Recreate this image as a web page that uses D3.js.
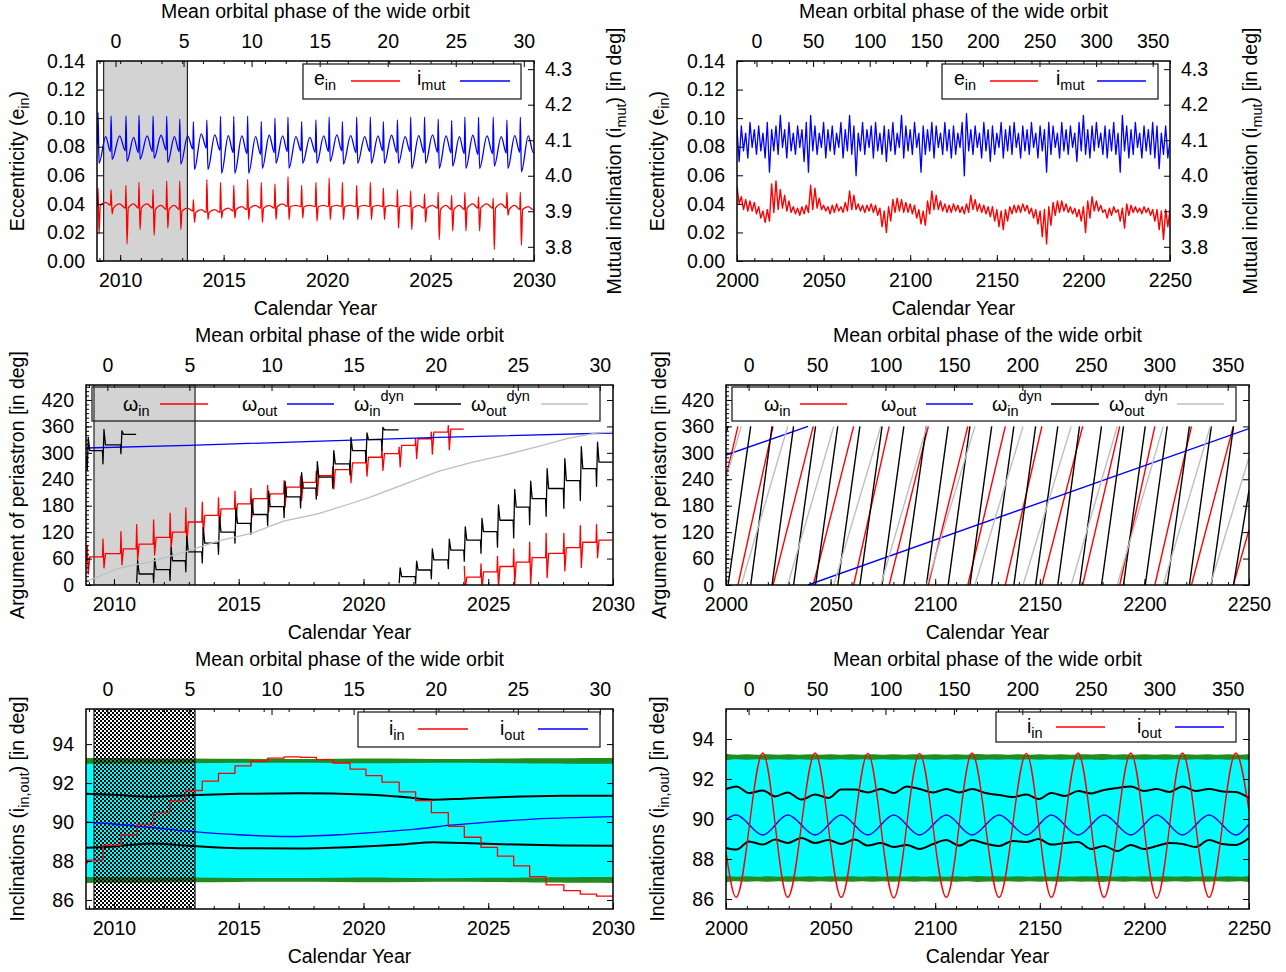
<!DOCTYPE html>
<html>
<head>
<meta charset="utf-8">
<script src="https://cdn.jsdelivr.net/npm/d3@7"></script>
<style>
  body { margin: 0; background: #fff; }
  text { font-family: "Liberation Sans", Arial, Helvetica, sans-serif; font-size: 19.5px; fill: #000; }
</style>
</head>
<body>
<svg id="fig" width="1286" height="972"></svg>
<script>
// ---------------- tick labels ----------------
var yearTicksShort = [2010, 2015, 2020, 2025, 2030];
var yearTicksLong = [2000, 2050, 2100, 2150, 2200, 2250];
var phaseTicksShort = [0, 5, 10, 15, 20, 25, 30];
var phaseTicksLong = [0, 50, 100, 150, 200, 250, 300, 350];
var eccTicks = [0, 0.02, 0.04, 0.06, 0.08, 0.10, 0.12, 0.14];
var imutTicks = [3.8, 3.9, 4.0, 4.1, 4.2, 4.3];
var omegaTicks = [0, 60, 120, 180, 240, 300, 360, 420];
var inclTicks = [86, 88, 90, 92, 94];

// ---------------- short run (2009-2030) ----------------
// years of the periastron spikes
var spikeYears = [2008.93, 2009.56, 2010.28, 2010.91, 2011.59, 2012.25, 2012.88, 2013.54, 2014.19, 2014.85,
  2015.49, 2016.16, 2016.82, 2017.48, 2018.11, 2018.77, 2019.46, 2020.10, 2020.74, 2021.43,
  2022.09, 2022.72, 2023.40, 2024.04, 2024.71, 2025.37, 2026.02, 2026.66, 2027.32, 2028.03,
  2028.69, 2029.34];
var observedSpan = [2009.2, 2013.25];

// e_in
var eInPeak = [0.051, 0.050, 0.053, 0.055, 0.050, 0.056, 0.056, 0.043, 0.057, 0.055, 0.053, 0.057, 0.055, 0.054, 0.059, 0.053,
  0.055, 0.058, 0.055, 0.053, 0.055, 0.051, 0.050, 0.049, 0.047, 0.048, 0.046, 0.048, 0.045, 0.044, 0.048, 0.048];
var eInDip = [0.019, 0.033, 0.012, 0.022, 0.018, 0.023, 0.022, 0.027, 0.029, 0.030, 0.030, 0.029, 0.027, 0.029, 0.029, 0.030,
  0.028, 0.029, 0.029, 0.029, 0.029, 0.029, 0.023, 0.022, 0.027, 0.015, 0.021, 0.021, 0.021, 0.008, 0.032, 0.011];
var eInBase = [0.039, 0.037, 0.037, 0.037, 0.036, 0.036, 0.035, 0.034, 0.034, 0.035, 0.036, 0.037, 0.037, 0.038, 0.038, 0.038,
  0.038, 0.038, 0.038, 0.038, 0.038, 0.038, 0.038, 0.037, 0.037, 0.036, 0.036, 0.037, 0.037, 0.037, 0.036, 0.036];
var eInHump = [0.041, 0.040, 0.040, 0.040, 0.039, 0.039, 0.037, 0.036, 0.036, 0.037, 0.038, 0.039, 0.039, 0.040, 0.039, 0.039,
  0.039, 0.039, 0.039, 0.039, 0.039, 0.039, 0.039, 0.039, 0.039, 0.039, 0.039, 0.040, 0.040, 0.040, 0.039, 0.038];
// i_mut (deg)
var imutPeak = [4.178, 4.168, 4.168, 4.170, 4.168, 4.167, 4.159, 4.152, 4.157, 4.167, 4.167, 4.168, 4.152, 4.162, 4.165, 4.152,
  4.157, 4.165, 4.152, 4.165, 4.165, 4.152, 4.157, 4.165, 4.165, 4.159, 4.155, 4.165, 4.165, 4.165, 4.157, 4.165];
var imutDip = [4.035, 4.046, 4.040, 4.046, 4.049, 4.037, 4.033, 4.018, 4.018, 4.007, 4.007, 4.007, 4.021, 4.035, 4.021, 4.035,
  4.035, 4.040, 4.033, 4.035, 4.035, 4.035, 4.035, 4.021, 4.035, 4.021, 4.027, 4.021, 4.021, 4.027, 4.021, 4.011];
var imutHump = [4.110, 4.112, 4.108, 4.112, 4.114, 4.110, 4.112, 4.118, 4.115, 4.113, 4.112, 4.110, 4.114, 4.112, 4.110, 4.108,
  4.112, 4.115, 4.113, 4.110, 4.112, 4.114, 4.110, 4.113, 4.115, 4.112, 4.110, 4.114, 4.112, 4.110, 4.113, 4.112];
var imutLow = [4.068, 4.070, 4.065, 4.068, 4.072, 4.068, 4.075, 4.078, 4.072, 4.065, 4.062, 4.060, 4.065, 4.068, 4.070, 4.066,
  4.068, 4.070, 4.065, 4.068, 4.070, 4.066, 4.068, 4.065, 4.066, 4.064, 4.062, 4.060, 4.062, 4.064, 4.066, 4.065];

// omega_in (deg), level after each spike, spike heights
var omegaInLevel = [64, 71, 82, 93, 108, 120, 143, 158, 173, 184, 196, 207, 222, 233, 248, 262,
  277, 290, 298, 317, 332, 347, 354, 18, 30, 42, 52, 62, 72, 85, 97, 102];
var omegaInUp = [35, 40, 50, 55, 55, 55, 55, 45, 40, 40, 35, 30, 30, 25, 25, 20,
  20, 20, 20, 15, 15, 15, 15, 25, 30, 35, 40, 45, 55, 45, 50, 40];
var omegaInDown = [30, 25, 25, 25, 25, 25, 30, 30, 30, 30, 30, 30, 30, 30, 30, 30,
  30, 30, 30, 30, 30, 35, 40, 25, 30, 35, 40, 50, 45, 40, 45, 35];
// omega_in^dyn (deg)
var omegaInDynLevel = [305, 318, 342, 25, 35, 55, 75, 95, 120, 140, 160, 178, 200, 220, 245, 275,
  305, 330, 352, 19, 34, 57, 79, 102, 121, 147, 177, 196, 219, 237, 264, 279];
var omegaInDynUp = [30, 35, 8, 30, 25, 30, 35, 35, 35, 35, 35, 35, 35, 35, 35, 30,
  30, 15, 6, 20, 20, 25, 25, 30, 30, 35, 40, 40, 45, 50, 50, 45];
var omegaInDynDown = [30, 30, 20, 20, 20, 25, 25, 25, 25, 25, 25, 25, 25, 25, 25, 25,
  25, 25, 25, 15, 15, 20, 20, 25, 30, 35, 40, 40, 40, 45, 45, 40];
// omega_out and omega_out^dyn (deg)
var omegaOutYears = [2008.88, 2013, 2018, 2023, 2030];
var omegaOutValues = [311, 317, 326, 335, 345];
var omegaOutDynYears = [2008.88, 2010.2, 2011.5, 2012.85, 2014.2, 2015.5, 2016.8, 2018.2, 2019.5, 2020.3,
  2021.7, 2023.0, 2024.3, 2025.6, 2026.9, 2028.2, 2029.3, 2030];
var omegaOutDynValues = [8, 38, 53, 75, 100, 117, 145, 162, 185, 200, 230, 258, 278, 294, 313, 333, 345, 347];

// inclinations (deg)
var iInShort = [88.05, 88.8, 89.33, 89.88, 90.5, 91.1, 91.62, 92.1, 92.5, 92.88, 93.12, 93.28, 93.34, 93.32, 93.2, 93.03,
  92.72, 92.38, 92.05, 91.55, 91.1, 90.48, 89.78, 89.22, 88.7, 88.25, 87.75, 87.2, 86.78, 86.48, 86.3, 86.2];
var iOutShortYears = [2008.88, 2010, 2011.5, 2013.3, 2015, 2017, 2019, 2020.3, 2022, 2023.5, 2025, 2026.8, 2028.5, 2030];
var iOutShort = [90.0, 89.9, 89.72, 89.5, 89.35, 89.26, 89.35, 89.46, 89.62, 89.84, 90.0, 90.15, 90.23, 90.28];
var limitYearsShort = [2008.88, 2010, 2011.5, 2013, 2015, 2017.5, 2020, 2021.5, 2022.8, 2024, 2026, 2028, 2030];
var upperLimitShort = [91.45, 91.4, 91.3, 91.38, 91.45, 91.48, 91.42, 91.3, 91.15, 91.2, 91.3, 91.35, 91.35];
var lowerLimitShort = [88.68, 88.75, 88.9, 88.78, 88.66, 88.65, 88.75, 88.85, 88.97, 88.92, 88.85, 88.8, 88.78];
var bandYearsShort = [2008.88, 2011, 2013, 2015, 2017, 2019, 2021, 2023, 2025, 2027, 2030];
var bandHalfShort = [0.15, 0.14, 0.12, 0.1, 0.09, 0.11, 0.13, 0.08, 0.11, 0.13, 0.15];
var bandCentreShort = [87.03, 93.14];
var cyanShort = [87.03, 93.1];

// ---------------- long run (2000-2250) ----------------
var longStep = 2.5; // years between samples below
var eInHiLong = [0.052,0.045,0.043,0.042,0.041,0.038,0.035,0.036,0.054,0.056,
  0.050,0.046,0.042,0.038,0.037,0.038,0.039,0.053,0.051,0.044,
  0.039,0.038,0.039,0.040,0.038,0.041,0.049,0.046,0.040,0.039,
  0.039,0.040,0.039,0.037,0.035,0.038,0.043,0.044,0.043,0.041,
  0.040,0.039,0.036,0.035,0.042,0.049,0.046,0.042,0.040,0.039,
  0.040,0.039,0.038,0.040,0.046,0.043,0.040,0.039,0.038,0.038,
  0.036,0.035,0.036,0.038,0.039,0.039,0.040,0.039,0.037,0.036,
  0.035,0.036,0.038,0.041,0.042,0.042,0.040,0.038,0.037,0.036,
  0.038,0.042,0.045,0.042,0.039,0.036,0.037,0.038,0.036,0.037,
  0.040,0.039,0.038,0.037,0.038,0.037,0.036,0.036,0.035,0.036,0.036];
var eInLoLong = [0.040,0.036,0.035,0.035,0.033,0.030,0.027,0.028,0.034,0.036,
  0.037,0.035,0.034,0.033,0.032,0.033,0.034,0.036,0.037,0.036,
  0.035,0.033,0.034,0.035,0.034,0.035,0.036,0.036,0.035,0.034,
  0.035,0.034,0.032,0.024,0.020,0.028,0.034,0.035,0.034,0.034,
  0.033,0.030,0.026,0.025,0.033,0.036,0.036,0.035,0.034,0.034,
  0.035,0.034,0.033,0.034,0.036,0.035,0.034,0.033,0.031,0.028,
  0.024,0.022,0.028,0.033,0.034,0.034,0.035,0.033,0.030,0.026,
  0.017,0.012,0.025,0.032,0.034,0.035,0.034,0.033,0.031,0.028,
  0.020,0.030,0.035,0.035,0.034,0.030,0.032,0.034,0.028,0.023,
  0.032,0.034,0.034,0.033,0.034,0.032,0.028,0.022,0.015,0.024,0.028];
var imutHiLong = [4.13,4.14,4.12,4.15,4.13,4.14,4.12,4.15,4.13,4.14,
  4.17,4.13,4.15,4.12,4.14,4.13,4.15,4.17,4.14,4.12,
  4.15,4.13,4.14,4.12,4.15,4.13,4.17,4.14,4.12,4.15,
  4.13,4.14,4.15,4.12,4.14,4.13,4.15,4.12,4.17,4.14,
  4.13,4.15,4.12,4.14,4.13,4.15,4.14,4.12,4.15,4.13,
  4.14,4.12,4.15,4.175,4.13,4.14,4.12,4.15,4.13,4.14,
  4.12,4.15,4.13,4.14,4.15,4.12,4.14,4.13,4.15,4.12,
  4.14,4.13,4.15,4.14,4.12,4.15,4.13,4.14,4.12,4.15,
  4.17,4.13,4.14,4.15,4.12,4.14,4.13,4.15,4.12,4.17,
  4.14,4.13,4.15,4.12,4.14,4.13,4.15,4.14,4.12,4.14,4.10];
var imutLoLong = [4.04,4.07,4.05,4.08,4.06,4.07,4.05,4.01,4.07,4.06,
  4.08,4.05,4.07,4.06,4.08,4.04,4.01,4.07,4.06,4.08,
  4.05,4.07,4.06,4.08,4.05,4.07,4.06,4.00,4.07,4.06,
  4.08,4.05,4.07,4.06,4.04,4.07,4.06,4.08,4.05,4.07,
  4.06,4.08,4.01,4.06,4.07,4.05,4.08,4.06,4.07,4.05,
  4.06,4.08,4.00,4.07,4.06,4.08,4.05,4.07,4.04,4.06,
  4.08,4.05,4.07,4.06,4.08,4.05,4.07,4.06,4.08,4.05,
  4.07,4.01,4.06,4.08,4.05,4.07,4.06,4.08,4.04,4.07,
  4.06,4.05,4.07,4.08,4.06,4.05,4.07,4.06,4.01,4.07,
  4.05,4.06,4.08,4.05,4.07,4.06,4.05,4.02,4.06,4.05,4.05];

// years where each argument of periastron wraps from 360 back to 0
var omegaInWraps = [2005.7, 2022.5, 2041.7, 2061.0, 2078.0, 2096.7, 2115.6, 2133.5, 2151.0, 2170.5, 2188.2, 2205.0, 2222.5, 2242.5];
var omegaInEnds = [245, 125];
var omegaOutWraps = [2039.2];
var omegaOutEnds = [295, 355];
var omegaInDynWraps = [2001.0, 2011.8, 2022.0, 2032.3, 2042.8, 2053.4, 2064.0, 2074.6, 2085.0, 2095.8, 2106.2, 2116.6,
  2127.0, 2137.6, 2148.0, 2158.6, 2169.0, 2179.5, 2190.0, 2200.4, 2210.9, 2221.5, 2232.0, 2242.6];
var omegaInDynEnds = [345, 215];
var omegaOutDynWraps = [2007.3, 2029.5, 2051.5, 2074.0, 2096.0, 2119.0, 2142.0, 2165.0, 2187.0, 2209.0, 2231.5];
var omegaOutDynEnds = [242, 290];

// inclination extremes
var extremaYearsLong = [2000, 2004.8, 2017.6, 2029.5, 2042.6, 2055.1, 2067.8, 2080.2, 2092.5, 2105.3, 2117.6,
  2130.5, 2143.6, 2155.5, 2168.3, 2180.7, 2193.5, 2205.9, 2218.2, 2230.9, 2243.7, 2250];
var iInLong = [88.35, 86.08, 93.3, 86.08, 93.3, 86.08, 93.28, 86.05, 93.28, 86.08, 93.3,
  86.08, 93.28, 86.08, 93.3, 86.08, 93.3, 86.05, 93.3, 86.08, 93.3, 90.4];
var iOutLong = [89.97, 90.2, 89.2, 90.2, 89.2, 90.2, 89.2, 90.2, 89.2, 90.2, 89.2,
  90.2, 89.2, 90.2, 89.2, 90.2, 89.2, 90.2, 89.2, 90.2, 89.2, 89.75];
var limitYearsLong = [2000, 2005, 2011, 2017.6, 2023.5, 2029.5, 2036, 2042.6, 2049, 2055.1, 2061.5, 2067.8, 2074, 2080.2,
  2086.4, 2092.5, 2099, 2105.3, 2111.5, 2117.6, 2124, 2130.5, 2137, 2143.6, 2149.5, 2155.5, 2162, 2168.3,
  2174.5, 2180.7, 2187, 2193.5, 2199.7, 2205.9, 2212, 2218.2, 2224.5, 2230.9, 2237.3, 2243.7, 2250];
var upperLimitLong = [91.5, 91.63, 91.3, 91.43, 91.13, 91.33, 90.97, 91.22, 91.05, 91.47, 91.47, 91.33, 91.5, 91.3,
  91.63, 91.5, 91.33, 91.5, 91.33, 91.5, 91.3, 91.2, 91.1, 91.22, 91.0, 91.3, 91.15, 91.4,
  91.28, 91.45, 91.55, 91.63, 91.4, 91.5, 91.35, 91.63, 91.4, 91.5, 91.38, 91.35, 91.05];
var lowerLimitLong = [88.55, 88.47, 88.88, 88.72, 88.97, 88.8, 89.05, 88.8, 88.95, 88.75, 88.97, 88.67, 88.8, 88.6,
  88.7, 88.5, 88.75, 88.95, 88.67, 88.95, 88.77, 88.65, 88.9, 88.85, 89.0, 88.72, 88.8, 88.85,
  88.5, 88.65, 88.4, 88.7, 88.5, 88.65, 88.8, 88.75, 88.6, 88.95, 88.75, 88.7, 89.05];
var bandStepLong = 5;
var bandHalfLong = [0.16,0.1,0.15,0.09,0.16,0.1,0.15,0.09,0.16,0.1,0.15,0.1,0.16,0.09,0.15,0.1,0.16,0.09,
  0.15,0.1,0.16,0.1,0.15,0.09,0.17,0.1,0.15,0.09,0.16,0.1,0.15,0.1,0.16,0.09,0.15,0.1,
  0.17,0.09,0.15,0.1,0.16,0.1,0.15,0.09,0.16,0.1,0.15,0.1,0.16,0.09,0.15];
var bandCentreLong = [87.0, 93.1];
var cyanLong = [87.0, 93.1];

// ---------------- drawing ----------------
var svg = d3.select("#fig");
var defs = svg.append("defs");
var checker = defs.append("pattern").attr("id", "checker")
  .attr("width", 4).attr("height", 4).attr("patternUnits", "userSpaceOnUse");
checker.append("rect").attr("width", 2).attr("height", 2).attr("fill", "#000");
checker.append("rect").attr("x", 2).attr("y", 2).attr("width", 2).attr("height", 2).attr("fill", "#000");

function richText(sel, parts) {
  var shift = 0;
  parts.forEach(function(p) {
    var target = p[1] === "sub" ? 5 : (p[1] === "sup" ? -10 : 0);
    var ts = sel.append("tspan").attr("dy", target - shift).text(p[0]);
    if (p[1]) ts.attr("font-size", 14.5);
    shift = target;
  });
}

function clean(g) {
  g.select(".domain").remove();
  g.attr("font-size", null).attr("font-family", null);
}

function makePanel(o) {
  var p = {};
  p.x = d3.scaleLinear().domain(o.xDom).range([o.l, o.r]);
  p.y = d3.scaleLinear().domain(o.yDom).range([o.b, o.t]);
  var xTop = d3.scaleLinear().domain(o.topDom).range([o.l, o.r]);
  defs.append("clipPath").attr("id", "clip" + o.id).append("rect")
    .attr("x", o.l).attr("y", o.t).attr("width", o.r - o.l).attr("height", o.b - o.t);
  p.plot = svg.append("g").attr("clip-path", "url(#clip" + o.id + ")");
  var ax = svg.append("g");
  p.top = svg.append("g");

  ax.append("g").attr("transform", "translate(0," + o.b + ")")
    .call(d3.axisBottom(p.x).tickValues(o.xTicks).tickSize(-6).tickPadding(12).tickFormat(d3.format("d"))).call(clean);
  ax.append("g").attr("transform", "translate(0," + o.b + ")")
    .call(d3.axisBottom(p.x).tickValues(o.xMinor).tickSize(-3).tickFormat("")).call(clean);
  ax.append("g").attr("transform", "translate(0," + o.t + ")")
    .call(d3.axisTop(p.x).tickValues(o.xMinor).tickSize(-3).tickFormat("")).call(clean);
  ax.append("g").attr("transform", "translate(0," + o.t + ")")
    .call(d3.axisTop(xTop).tickValues(o.topTicks).tickSize(-6).tickPadding(13).tickFormat(d3.format("d"))).call(clean);
  ax.append("g").attr("transform", "translate(" + o.l + ",0)")
    .call(d3.axisLeft(p.y).tickValues(o.yTicks).tickSize(-6).tickPadding(12).tickFormat(o.yFmt)).call(clean);
  if (o.yMinor) {
    ax.append("g").attr("transform", "translate(" + o.l + ",0)")
      .call(d3.axisLeft(p.y).tickValues(o.yMinor).tickSize(-3).tickFormat("")).call(clean);
  }
  if (o.y2Dom) {
    p.y2 = d3.scaleLinear().domain(o.y2Dom).range([o.b, o.t]);
    ax.append("g").attr("transform", "translate(" + o.r + ",0)")
      .call(d3.axisRight(p.y2).tickValues(o.y2Ticks).tickSize(-6).tickPadding(11).tickFormat(d3.format(".1f"))).call(clean);
  } else {
    ax.append("g").attr("transform", "translate(" + o.r + ",0)")
      .call(d3.axisRight(p.y).tickValues(o.yTicks).tickSize(-6).tickFormat("")).call(clean);
  }
  ax.append("rect").attr("x", o.l).attr("y", o.t).attr("width", o.r - o.l).attr("height", o.b - o.t)
    .attr("fill", "none").attr("stroke", "#000").attr("stroke-width", 1.5);

  ax.append("text").attr("x", (o.l + o.r) / 2).attr("y", o.t - 43).attr("text-anchor", "middle")
    .text("Mean orbital phase of the wide orbit");
  ax.append("text").attr("x", (o.l + o.r) / 2).attr("y", o.b + 54).attr("text-anchor", "middle")
    .text("Calendar Year");
  var yt = ax.append("text").attr("text-anchor", "middle")
    .attr("transform", "translate(" + o.yTitleX + "," + ((o.t + o.b) / 2) + ") rotate(-90)");
  richText(yt, o.yTitle);
  if (o.y2Title) {
    var y2t = ax.append("text").attr("text-anchor", "middle")
      .attr("transform", "translate(" + o.y2TitleX + "," + ((o.t + o.b) / 2) + ") rotate(-90)");
    richText(y2t, o.y2Title);
  }
  return p;
}

function legend(p, box, lineY, items) {
  p.top.append("rect").attr("x", box[0]).attr("y", box[1]).attr("width", box[2] - box[0]).attr("height", box[3] - box[1])
    .attr("fill", "none").attr("stroke", "#222").attr("stroke-width", 1.3);
  items.forEach(function(it) {
    var t = p.top.append("text").attr("x", it.tx).attr("y", lineY + it.dy);
    richText(t, it.parts);
    p.top.append("line").attr("x1", it.l0).attr("x2", it.l1).attr("y1", lineY).attr("y2", lineY)
      .attr("stroke", it.color).attr("stroke-width", 1.3);
  });
}

function spikeTrace(x0, v0, times, peaks, dips, afters, mids, pres, x1) {
  var pts = [[x0, v0]];
  var n = times.length;
  for (var i = 0; i < n; i++) {
    var t = times[i];
    var next = i < n - 1 ? times[i + 1] : x1;
    var before = i === 0 ? v0 : pres[i - 1];
    if (t - 0.03 > pts[pts.length - 1][0]) pts.push([t - 0.03, before]);
    pts.push([t, peaks[i]]);
    pts.push([t + 0.05, dips[i]]);
    if (afters) pts.push([t + 0.11, afters[i]]);
    pts.push([(t + 0.11 + next) / 2, mids[i]]);
    pts.push([next - 0.03, pres[i]]);
  }
  pts.push([x1, pres[n - 1]]);
  return pts;
}

function stepTrace(x0, v0, times, levels, ups, downs, x1, dipFirst) {
  var segs = [], cur = [[x0, v0]], prev = v0;
  for (var i = 0; i < times.length; i++) {
    var t = times[i], L = levels[i];
    var next = i < times.length - 1 ? times[i + 1] : x1;
    var wrap = L < prev - 180;
    var ref = wrap ? L : prev;
    if (wrap) { segs.push(cur); cur = []; } else { cur.push([t - 0.02, prev]); }
    if (dipFirst) {
      cur.push([t, ref - downs[i]]);
      cur.push([t + 0.04, L + ups[i]]);
    } else {
      cur.push([t, ref + ups[i]]);
      cur.push([t + 0.04, ref - downs[i]]);
    }
    cur.push([t + 0.1, L]);
    cur.push([next - 0.02, L]);
    prev = L;
  }
  segs.push(cur);
  return segs;
}

function sawSegments(x0, ends, wraps, x1) {
  var segs = [], px = x0, pv = ends[0];
  wraps.forEach(function(w) { segs.push([[px, pv], [w, 360]]); px = w; pv = 0; });
  segs.push([[px, pv], [x1, ends[1]]]);
  return segs;
}

function zigzag(x0, step, hi, lo) {
  var pts = [];
  hi.forEach(function(h, i) {
    pts.push([x0 + i * step, h]);
    pts.push([x0 + i * step + step / 2, lo[i]]);
  });
  return pts;
}

function drawPath(p, pts, yScale, color, width, curve) {
  var line = d3.line().x(function(d) { return p.x(d[0]); }).y(function(d) { return yScale(d[1]); })
    .curve(curve || d3.curveLinear);
  p.plot.append("path").attr("d", line(pts)).attr("fill", "none")
    .attr("stroke", color).attr("stroke-width", width).attr("stroke-linejoin", "round");
}

function shade(p, fill) {
  p.plot.append("rect").attr("x", p.x(observedSpan[0])).attr("width", p.x(observedSpan[1]) - p.x(observedSpan[0]))
    .attr("y", p.y.range()[1]).attr("height", p.y.range()[0] - p.y.range()[1]).attr("fill", fill);
  observedSpan.forEach(function(v) {
    p.plot.append("line").attr("x1", p.x(v)).attr("x2", p.x(v)).attr("y1", p.y.range()[1]).attr("y2", p.y.range()[0])
      .attr("stroke", "#222").attr("stroke-width", 1.2);
  });
}

function bands(p, years, half, centres, cyan) {
  p.plot.append("rect").attr("x", p.x.range()[0]).attr("width", p.x.range()[1] - p.x.range()[0])
    .attr("y", p.y(cyan[1])).attr("height", p.y(cyan[0]) - p.y(cyan[1])).attr("fill", "#00ffff");
  centres.forEach(function(c) {
    var area = d3.area().x(function(d, i) { return p.x(years[i]); })
      .y0(function(d) { return p.y(c - d); }).y1(function(d) { return p.y(c + d); })
      .curve(d3.curveBasis);
    p.plot.append("path").attr("d", area(half)).attr("fill", "#228b22");
  });
}

var eccTitle = [["Eccentricity (e"], ["in", "sub"], [")"]];
var imutTitle = [["Mutual inclination (i"], ["mut", "sub"], [") [in deg]"]];
var omegaTitle = [["Argument of periastron [in deg]"]];
var inclTitle = [["Inclinations (i"], ["in,out", "sub"], [") [in deg]"]];
var fmt2 = d3.format(".2f"), fmtInt = d3.format("d");
var shortX = [2008.88, 2030], longX = [2000, 2250];
var minorShort = d3.range(2009, 2031, 1), minorLong = d3.range(2000, 2251, 10);

// ---- top left ----
var tl = makePanel({id: "tl", l: 97, r: 534, t: 61, b: 261, xDom: shortX, topDom: [-1.36, 30.75],
  yDom: [0, 0.14], y2Dom: [3.76, 4.323], xTicks: yearTicksShort, xMinor: minorShort, topTicks: phaseTicksShort,
  yTicks: eccTicks, y2Ticks: imutTicks, yFmt: fmt2, yTitle: eccTitle, yTitleX: 24, y2Title: imutTitle, y2TitleX: 621});
shade(tl, "#d3d3d3");
drawPath(tl, spikeTrace(shortX[0], 0.038, spikeYears, eInPeak, eInDip, eInBase, eInHump, eInBase, shortX[1]),
  tl.y, "#ff0000", 1.3, d3.curveMonotoneX);
drawPath(tl, spikeTrace(shortX[0], 4.09, spikeYears, imutPeak, imutDip, null, imutHump, imutLow, shortX[1]),
  tl.y2, "#0000ff", 1.3, d3.curveMonotoneX);
legend(tl, [303, 64, 521, 99], 81, [
  {parts: [["e"], ["in", "sub"]], tx: 314, dy: 4, l0: 351, l1: 400, color: "#ff0000"},
  {parts: [["i"], ["mut", "sub"]], tx: 417, dy: 4, l0: 460, l1: 510, color: "#0000ff"}]);

// ---- top right ----
var tr = makePanel({id: "tr", l: 737, r: 1170, t: 61, b: 261, xDom: longX, topDom: [-17.2, 365.3],
  yDom: [0, 0.14], y2Dom: [3.76, 4.323], xTicks: yearTicksLong, xMinor: minorLong, topTicks: phaseTicksLong,
  yTicks: eccTicks, y2Ticks: imutTicks, yFmt: fmt2, yTitle: eccTitle, yTitleX: 664, y2Title: imutTitle, y2TitleX: 1257});
drawPath(tr, zigzag(longX[0], longStep, eInHiLong, eInLoLong), tr.y, "#ff0000", 1.4);
drawPath(tr, zigzag(longX[0], longStep, imutHiLong, imutLoLong), tr.y2, "#0000ff", 1.3);
legend(tr, [942, 64, 1158, 99], 81, [
  {parts: [["e"], ["in", "sub"]], tx: 954, dy: 4, l0: 990, l1: 1038, color: "#ff0000"},
  {parts: [["i"], ["mut", "sub"]], tx: 1056, dy: 4, l0: 1097, l1: 1146, color: "#0000ff"}]);

// ---- middle left ----
var omegaLegend = function(x) {
  return [
    {parts: [["ω"], ["in", "sub"]], tx: x[0], dy: 7, l0: x[1], l1: x[2], color: "#ff0000"},
    {parts: [["ω"], ["out", "sub"]], tx: x[3], dy: 7, l0: x[4], l1: x[5], color: "#0000ff"},
    {parts: [["ω"], ["in", "sub"], ["dyn", "sup"]], tx: x[6], dy: 7, l0: x[7], l1: x[8], color: "#000000"},
    {parts: [["ω"], ["out", "sub"], ["dyn", "sup"]], tx: x[9], dy: 7, l0: x[10], l1: x[11], color: "#bebebe"}];
};
var ml = makePanel({id: "ml", l: 86, r: 613, t: 385, b: 585, xDom: shortX, topDom: [-1.3, 30.8],
  yDom: [0, 454], xTicks: yearTicksShort, xMinor: minorShort, topTicks: phaseTicksShort,
  yTicks: omegaTicks, yMinor: d3.range(0, 451, 10), yFmt: fmtInt, yTitle: omegaTitle, yTitleX: 24});
shade(ml, "#d3d3d3");
stepTrace(shortX[0], 55, spikeYears, omegaInLevel, omegaInUp, omegaInDown, shortX[1], false)
  .forEach(function(s) { drawPath(ml, s, ml.y, "#ff0000", 1.3); });
drawPath(ml, omegaOutYears.map(function(d, i) { return [d, omegaOutValues[i]]; }), ml.y, "#0000ff", 1.3);
stepTrace(shortX[0], 290, spikeYears, omegaInDynLevel, omegaInDynUp, omegaInDynDown, shortX[1], true)
  .forEach(function(s) { drawPath(ml, s, ml.y, "#000000", 1.3); });
drawPath(ml, omegaOutDynYears.map(function(d, i) { return [d, omegaOutDynValues[i]]; }), ml.y, "#bebebe", 1.3);
legend(ml, [92, 387, 600, 421], 404, omegaLegend([123, 160, 208, 242, 287, 334, 354, 414, 461, 471, 541, 588]));

// ---- middle right ----
var mr = makePanel({id: "mr", l: 726, r: 1249, t: 385, b: 585, xDom: longX, topDom: [-16.5, 365.6],
  yDom: [0, 454], xTicks: yearTicksLong, xMinor: minorLong, topTicks: phaseTicksLong,
  yTicks: omegaTicks, yMinor: d3.range(0, 451, 10), yFmt: fmtInt, yTitle: omegaTitle, yTitleX: 666});
sawSegments(longX[0], omegaInEnds, omegaInWraps, longX[1]).forEach(function(s) { drawPath(mr, s, mr.y, "#ff0000", 1.4); });
sawSegments(longX[0], omegaOutEnds, omegaOutWraps, longX[1]).forEach(function(s) { drawPath(mr, s, mr.y, "#0000ff", 1.4); });
sawSegments(longX[0], omegaInDynEnds, omegaInDynWraps, longX[1]).forEach(function(s) { drawPath(mr, s, mr.y, "#000000", 1.4); });
sawSegments(longX[0], omegaOutDynEnds, omegaOutDynWraps, longX[1]).forEach(function(s) { drawPath(mr, s, mr.y, "#bebebe", 1.4); });
legend(mr, [732, 387, 1236, 421], 404, omegaLegend([764, 800, 847, 881, 926, 973, 992, 1051, 1099, 1109, 1177, 1224]));

// ---- bottom left ----
var bl = makePanel({id: "bl", l: 86, r: 613, t: 709, b: 909, xDom: shortX, topDom: [-1.3, 30.8],
  yDom: [85.54, 95.8], xTicks: yearTicksShort, xMinor: minorShort, topTicks: phaseTicksShort,
  yTicks: inclTicks, yFmt: fmtInt, yTitle: inclTitle, yTitleX: 24});
bands(bl, bandYearsShort, bandHalfShort, bandCentreShort, cyanShort);
shade(bl, "url(#checker)");
drawPath(bl, limitYearsShort.map(function(d, i) { return [d, upperLimitShort[i]]; }), bl.y, "#000000", 2, d3.curveMonotoneX);
drawPath(bl, limitYearsShort.map(function(d, i) { return [d, lowerLimitShort[i]]; }), bl.y, "#000000", 2, d3.curveMonotoneX);
drawPath(bl, iOutShortYears.map(function(d, i) { return [d, iOutShort[i]]; }), bl.y, "#0000ff", 1.3, d3.curveMonotoneX);
drawPath(bl, [[shortX[0], 87.9]].concat(spikeYears.map(function(d, i) { return [d, iInShort[i]]; }), [[shortX[1], 86.2]]),
  bl.y, "#ff0000", 1.3, d3.curveStepAfter);
legend(bl, [358, 712, 600, 747], 729, [
  {parts: [["i"], ["in", "sub"]], tx: 389, dy: 6, l0: 418, l1: 468, color: "#ff0000"},
  {parts: [["i"], ["out", "sub"]], tx: 500, dy: 6, l0: 538, l1: 588, color: "#0000ff"}]);

// ---- bottom right ----
var br = makePanel({id: "br", l: 726, r: 1249, t: 709, b: 909, xDom: longX, topDom: [-16.5, 365.6],
  yDom: [85.5, 95.5], xTicks: yearTicksLong, xMinor: minorLong, topTicks: phaseTicksLong,
  yTicks: inclTicks, yFmt: fmtInt, yTitle: inclTitle, yTitleX: 664});
bands(br, bandHalfLong.map(function(d, i) { return longX[0] + i * bandStepLong; }), bandHalfLong, bandCentreLong, cyanLong);
drawPath(br, limitYearsLong.map(function(d, i) { return [d, upperLimitLong[i]]; }), br.y, "#000000", 2, d3.curveMonotoneX);
drawPath(br, limitYearsLong.map(function(d, i) { return [d, lowerLimitLong[i]]; }), br.y, "#000000", 2, d3.curveMonotoneX);
drawPath(br, extremaYearsLong.map(function(d, i) { return [d, iOutLong[i]]; }), br.y, "#0000ff", 1.3, d3.curveMonotoneX);
drawPath(br, extremaYearsLong.map(function(d, i) { return [d, iInLong[i]]; }), br.y, "#ff0000", 1.4, d3.curveMonotoneX);
legend(br, [996, 712, 1236, 742], 727, [
  {parts: [["i"], ["in", "sub"]], tx: 1027, dy: 6, l0: 1056, l1: 1105, color: "#ff0000"},
  {parts: [["i"], ["out", "sub"]], tx: 1137, dy: 6, l0: 1175, l1: 1224, color: "#0000ff"}]);
</script>
</body>
</html>
